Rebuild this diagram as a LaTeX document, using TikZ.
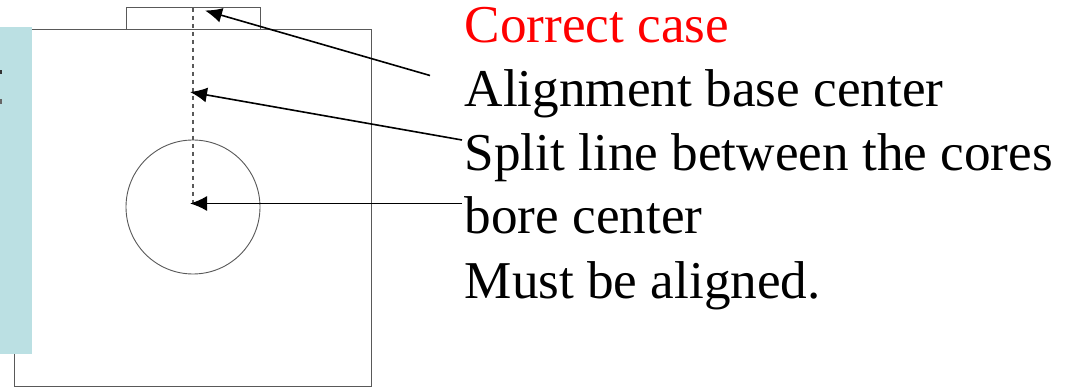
\documentclass[tikz,border=0pt]{standalone}
\usepackage{fontspec}
\setmainfont{Liberation Serif}
\usetikzlibrary{arrows.meta}
\definecolor{panelteal}{HTML}{BBE0E3}
\tikzset{
  outline/.style={draw=black!65,line width=0.9pt},
  pointer/.style={-{Latex[length=17pt,width=15pt]},line width=1.6pt},
  caption/.style={anchor=base west,inner sep=0pt,font=\fontsize{53.2}{53.2}\selectfont},
}
\begin{document}
\begin{tikzpicture}[x=1pt,y=-1pt]
\useasboundingbox (0,0) rectangle (1068,387);
\fill[white] (0,0) rectangle (1068,387);
\coordinate (BL) at (14,386);
\coordinate (TR) at (371.5,29.5);
\coordinate (B) at (193,8);
\coordinate (C) at (193,204);
\coordinate (A1) at (430,75.5);
\coordinate (A2) at (462,140);
\coordinate (A3) at (462,203.5);
\coordinate (E1) at (205,10.5);
\coordinate (E2) at (190,92);
\coordinate (E3) at (190,203.5);
\draw[outline] (BL) rectangle (TR);
\draw[outline] (126,29.5) -- (126,7.5) -- (260,7.5) -- (260,29.5);
\fill[panelteal] (0,27) rectangle (32,354);
\fill[black!80] (0,70.5) rectangle (2,74);
\fill[black!60] (0,99) rectangle (1.5,104);
\draw[outline] (193,207) circle (67);
\draw[outline,line width=1.3pt,dash pattern=on 4.5pt off 3.5pt] (B) -- (C);
\node[caption,text=red] (T1) at (464.5,43) {Correct case};
\node[caption] (T2) at (464.5,107) {Alignment base center};
\node[caption] (T3) at (464.5,170.5) {Split line between the cores};
\node[caption] (T4) at (464.5,234) {bore center};
\node[caption] (T5) at (464.5,298.5) {Must be aligned.};
\draw[pointer] (A1) -- (E1);
\draw[pointer] (A2) -- (E2);
\draw[pointer] (A3) -- (E3);
\end{tikzpicture}
\end{document}
